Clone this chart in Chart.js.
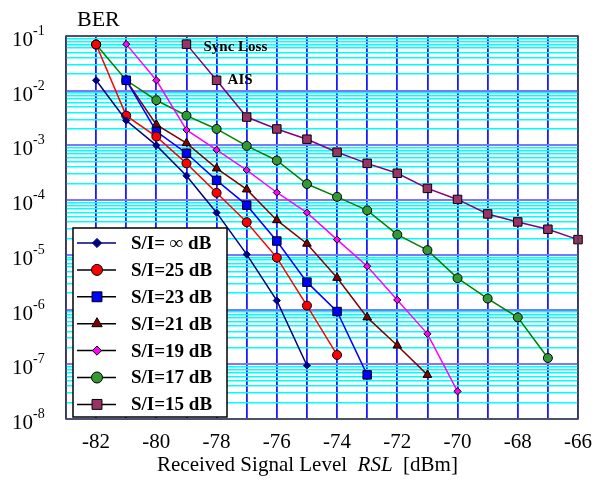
<!DOCTYPE html>
<html lang="en">
<head>
<meta charset="UTF-8">
<title>BER vs Received Signal Level</title>
<script src="https://cdn.jsdelivr.net/npm/chart.js"></script>
<style>
  body { margin: 0; background: #fff; }
  #wrap { width: 603px; height: 489px; position: relative; }
</style>
</head>
<body>
<div id="wrap"><canvas id="berChart"></canvas></div>
<script>
// x values (RSL, dBm) for each curve
const rslInf = [-82, -81, -80, -79, -78, -77, -76, -75];
const rsl25  = [-82, -81, -80, -79, -78, -77, -76, -75, -74];
const rsl23  = [-81, -80, -79, -78, -77, -76, -75, -74, -73];
const rsl21  = [-81, -80, -79, -78, -77, -76, -75, -74, -73, -72, -71];
const rsl19  = [-81, -80, -79, -78, -77, -76, -75, -74, -73, -72, -71, -70];
const rsl17  = [-82, -81, -80, -79, -78, -77, -76, -75, -74, -73, -72, -71, -70, -69, -68, -67];
const rsl15  = [-79, -78, -77, -76, -75, -74, -73, -72, -71, -70, -69, -68, -67, -66];

// BER values
const berInf = [1.55e-2, 2.85e-3, 1.0e-3, 2.8e-4, 5.9e-5, 1.02e-5, 1.46e-6, 9.5e-8];
const ber25  = [7.0e-2, 3.5e-3, 1.45e-3, 4.7e-4, 1.36e-4, 3.95e-5, 8.9e-6, 1.18e-6, 1.48e-7];
const ber23  = [1.55e-2, 1.8e-3, 7.2e-4, 2.3e-4, 8.1e-5, 1.79e-5, 3.17e-6, 9.2e-7, 6.4e-8];
const ber21  = [1.55e-2, 2.4e-3, 1.1e-3, 3.8e-4, 1.57e-4, 4.3e-5, 1.6e-5, 3.8e-6, 7.2e-7, 2.2e-7, 6.4e-8];
const ber19  = [7.1e-2, 1.55e-2, 1.92e-3, 8.3e-4, 3.55e-4, 1.38e-4, 5.9e-5, 1.9e-5, 6.2e-6, 1.5e-6, 3.6e-7, 3.2e-8];
const ber17  = [7.0e-2, 1.55e-2, 6.7e-3, 3.5e-3, 2.0e-3, 9.8e-4, 5.3e-4, 1.97e-4, 1.15e-4, 6.5e-5, 2.34e-5, 1.22e-5, 3.75e-6, 1.59e-6, 7.2e-7, 1.3e-7];
const ber15  = [7.1e-2, 1.55e-2, 3.3e-3, 2.0e-3, 1.3e-3, 7.5e-4, 4.7e-4, 3.1e-4, 1.64e-4, 1.03e-4, 5.6e-5, 4.0e-5, 2.94e-5, 1.9e-5];

const seriesNames = ['S/I= \u221E dB', 'S/I=25 dB', 'S/I=23 dB', 'S/I=21 dB', 'S/I=19 dB', 'S/I=17 dB', 'S/I=15 dB'];

// axis ticks
const xTickValues = [-82, -80, -78, -76, -74, -72, -70, -68, -66];
const xTickLabels = ['-82', '-80', '-78', '-76', '-74', '-72', '-70', '-68', '-66'];
const yDecades = [1e-8, 1e-7, 1e-6, 1e-5, 1e-4, 1e-3, 1e-2, 1e-1];
const yExponents = ['-8', '-7', '-6', '-5', '-4', '-3', '-2', '-1'];
const yMinorSteps = [2, 3, 4, 5, 6, 7, 8, 9];

const serif = '"Liberation Serif", "Times New Roman", serif';

function pts(xs, ys) {
    return xs.map((x, i) => ({ x: x, y: ys[i] }));
}

const yGrid = [];
yDecades.forEach((d, i) => {
    yGrid.push(d);
    if (i < yDecades.length - 1) yMinorSteps.forEach(m => yGrid.push(m * d));
});

const styles = [
    { line: '#000080', fill: '#000080', border: '#000080', shape: 'rectRot', r: 3.6 },
    { line: '#ff0000', fill: '#ff0000', border: '#000000', shape: 'circle', r: 4.5 },
    { line: '#0000ff', fill: '#0000ff', border: '#000000', shape: 'rect', r: 6 },
    { line: '#800000', fill: '#800000', border: '#000000', shape: 'triangle', r: 5 },
    { line: '#ff00ff', fill: '#ff00ff', border: '#000000', shape: 'rectRot', r: 3.6 },
    { line: '#008000', fill: '#339933', border: '#000000', shape: 'circle', r: 4.5 },
    { line: '#800080', fill: '#993366', border: '#000000', shape: 'rect', r: 6 }
];

const allPts = [
    pts(rslInf, berInf), pts(rsl25, ber25), pts(rsl23, ber23), pts(rsl21, ber21),
    pts(rsl19, ber19), pts(rsl17, ber17), pts(rsl15, ber15)
];

const datasets = allPts.map((d, i) => ({
    label: seriesNames[i],
    data: d,
    borderColor: styles[i].line,
    borderWidth: 1.5,
    pointStyle: styles[i].shape,
    pointRadius: styles[i].r,
    pointBackgroundColor: styles[i].fill,
    pointBorderColor: styles[i].border,
    pointBorderWidth: 1,
    tension: 0,
    fill: false,
    clip: false
}));

const decorPlugin = {
    id: 'decor',
    afterDraw(chart) {
        const ctx = chart.ctx;
        const a = chart.chartArea;
        const xs = chart.scales.x;
        const ys = chart.scales.y;
        ctx.save();

        // frame
        ctx.strokeStyle = '#404040';
        ctx.lineWidth = 1.5;
        ctx.strokeRect(a.left, a.top, a.right - a.left, a.bottom - a.top);

        // y tick labels 10^n
        ctx.fillStyle = '#000';
        ctx.textBaseline = 'alphabetic';
        yDecades.forEach((v, i) => {
            const y = ys.getPixelForValue(v);
            ctx.font = '21px ' + serif;
            ctx.textAlign = 'right';
            ctx.fillText('10', 33, y + 10);
            ctx.font = '14px ' + serif;
            ctx.textAlign = 'left';
            ctx.fillText(yExponents[i], 33, y - 1);
        });

        // BER label
        ctx.font = '22px ' + serif;
        ctx.textAlign = 'left';
        ctx.fillText('BER', 77, 26);

        // x axis title with italic RSL
        const parts = [
            ['Received Signal Level  ', '21px ' + serif],
            ['RSL', 'italic 21px ' + serif],
            ['  [dBm]', '21px ' + serif]
        ];
        let tx = 157;
        parts.forEach(p => {
            ctx.font = p[1];
            ctx.fillText(p[0], tx, 471);
            tx += ctx.measureText(p[0]).width;
        });

        // annotations
        ctx.font = 'bold 15px ' + serif;
        ctx.textBaseline = 'middle';
        ctx.fillText('Sync Loss', xs.getPixelForValue(-79) + 17, ys.getPixelForValue(ber15[0]) + 3);
        ctx.fillText('AIS', xs.getPixelForValue(-78) + 11, ys.getPixelForValue(ber15[1]));

        // legend box
        const lx = 73, ly = 228, lw = 154, lh = 189;
        ctx.fillStyle = '#fff';
        ctx.fillRect(lx, ly, lw, lh);
        ctx.strokeStyle = '#000';
        ctx.lineWidth = 1.5;
        ctx.strokeRect(lx, ly, lw, lh);
        ctx.font = 'bold 19px ' + serif;
        ctx.textAlign = 'left';
        seriesNames.forEach((name, i) => {
            const y = 243 + i * 26.9;
            const s = styles[i];
            ctx.strokeStyle = s.line === '#000080' ? '#000080' : '#000';
            ctx.lineWidth = 1.5;
            ctx.beginPath();
            ctx.moveTo(77, y);
            ctx.lineTo(116, y);
            ctx.stroke();
            ctx.fillStyle = s.fill;
            ctx.strokeStyle = s.border;
            ctx.lineWidth = 1;
            Chart.helpers.drawPoint(ctx, { pointStyle: s.shape, radius: s.r + 1, rotation: 0, borderWidth: 1 }, 97, y);
            ctx.fillStyle = '#000';
            ctx.fillText(name, 131, y + 1);
        });
        ctx.restore();
    }
};

new Chart(document.getElementById('berChart'), {
    type: 'line',
    data: { datasets: datasets },
    options: {
        responsive: true,
        maintainAspectRatio: false,
        animation: false,
        layout: { padding: { top: 36, right: 16, left: 0, bottom: 0 } },
        plugins: { legend: { display: false }, tooltip: { enabled: false } },
        scales: {
            x: {
                type: 'linear',
                min: -83,
                max: -66,
                afterFit: s => { s.height = 70; },
                ticks: {
                    stepSize: 1,
                    autoSkip: false,
                    maxRotation: 0,
                    padding: 11,
                    color: '#000',
                    font: { family: serif, size: 21 },
                    callback: v => {
                        const i = xTickValues.indexOf(v);
                        return i >= 0 ? xTickLabels[i] : '';
                    }
                },
                grid: { color: '#1a1aff', lineWidth: 1.8, drawTicks: false },
                border: { display: false }
            },
            y: {
                type: 'logarithmic',
                min: 1e-8,
                max: 1e-1,
                afterFit: s => { s.width = 66; },
                afterBuildTicks: s => { s.ticks = yGrid.map(v => ({ value: v })); },
                ticks: { display: false },
                grid: {
                    drawTicks: false,
                    color: c => yDecades.includes(c.tick.value) ? '#7a7aff' : '#00ffff',
                    lineWidth: c => yDecades.includes(c.tick.value) ? 2 : 1.5
                },
                border: { display: false }
            }
        }
    },
    plugins: [decorPlugin]
});
</script>
</body>
</html>
